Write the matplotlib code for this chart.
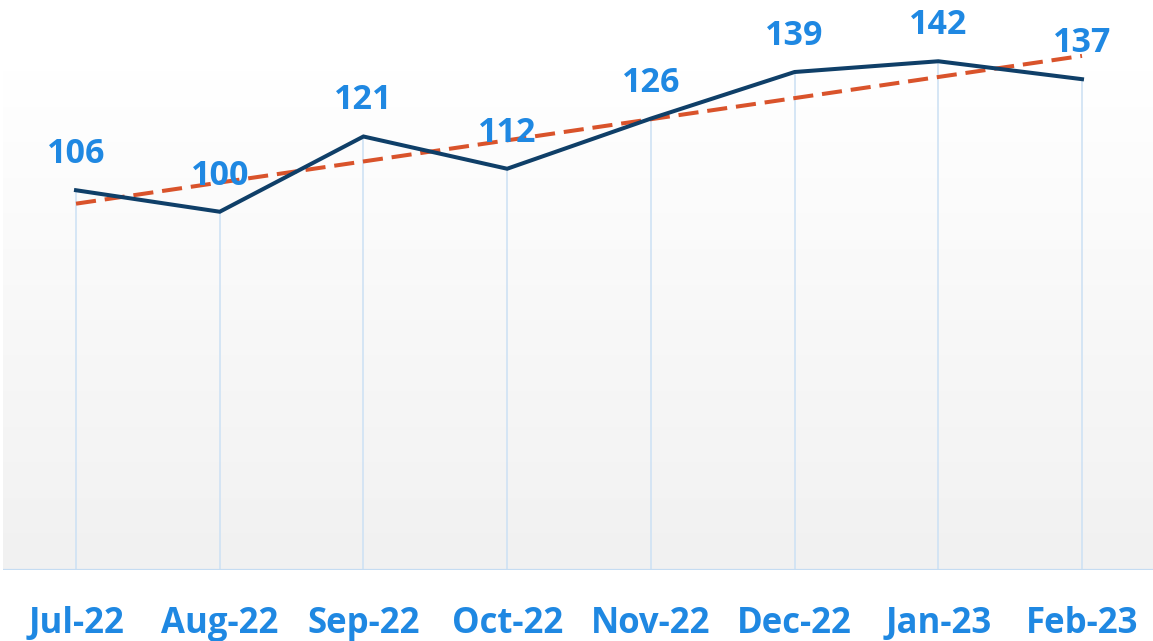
import numpy as np
import matplotlib
matplotlib.use("Agg")
import matplotlib.pyplot as plt
from matplotlib.colors import LinearSegmentedColormap

months = ["Jul-22", "Aug-22", "Sep-22", "Oct-22", "Nov-22", "Dec-22", "Jan-23", "Feb-23"]
values = [106, 100, 121, 112, 126, 139, 142, 137]

plt.rcParams['font.family'] = ['Open Sans', 'DejaVu Sans']

fig = plt.figure(figsize=(11.53, 6.41), dpi=100)
ax = fig.add_axes([3/1153, (641-570)/641, 1150/1153, 570/641])
x = np.arange(len(values))
xmin, xmax = -0.508, 7.494
ax.set_xlim(xmin, xmax)
ax.set_ylim(0, 159.1)

# gradient background
cmap = LinearSegmentedColormap.from_list("bg", ["#F1F1F1", "#FFFFFF"])
grad = np.linspace(0, 1, 256).reshape(-1, 1)
ax.imshow(grad, cmap=cmap, origin='lower', aspect='auto',
          extent=[xmin, xmax, 0, 139.5], zorder=0)

# drop lines
ax.vlines(x, 0, values, color="#CFE2F4", lw=1.2, zorder=1)

# baseline
ax.axhline(0, color="#C5DCF2", lw=1.6, zorder=2)

# trend line
coef = np.polyfit(x, values, 1)
trend = np.polyval(coef, x)
ax.plot(x, trend, color="#D9532B", lw=2.9, dashes=(5, 2.2),
        dash_capstyle='butt', zorder=3, clip_on=False)

# main line
ax.plot(x, values, color="#0F3F68", lw=2.9, zorder=4, clip_on=False,
        solid_joinstyle='miter')

label_color = "#1F88E2"
for xi, v in zip(x, values):
    ax.annotate(str(v), (xi, v), xytext=(0, 19.5), textcoords='offset points',
                ha='center', va='baseline', fontsize=24.5, fontweight='bold',
                color=label_color, zorder=5)

for xi, m in zip(x, months):
    ax.annotate(m, (xi, 0), xytext=(0, -45.5), textcoords='offset points',
                ha='center', va='baseline', fontsize=25, fontweight='bold',
                color=label_color, annotation_clip=False)

ax.set_axis_off()
fig.savefig("out.png", dpi=100, facecolor='white')
